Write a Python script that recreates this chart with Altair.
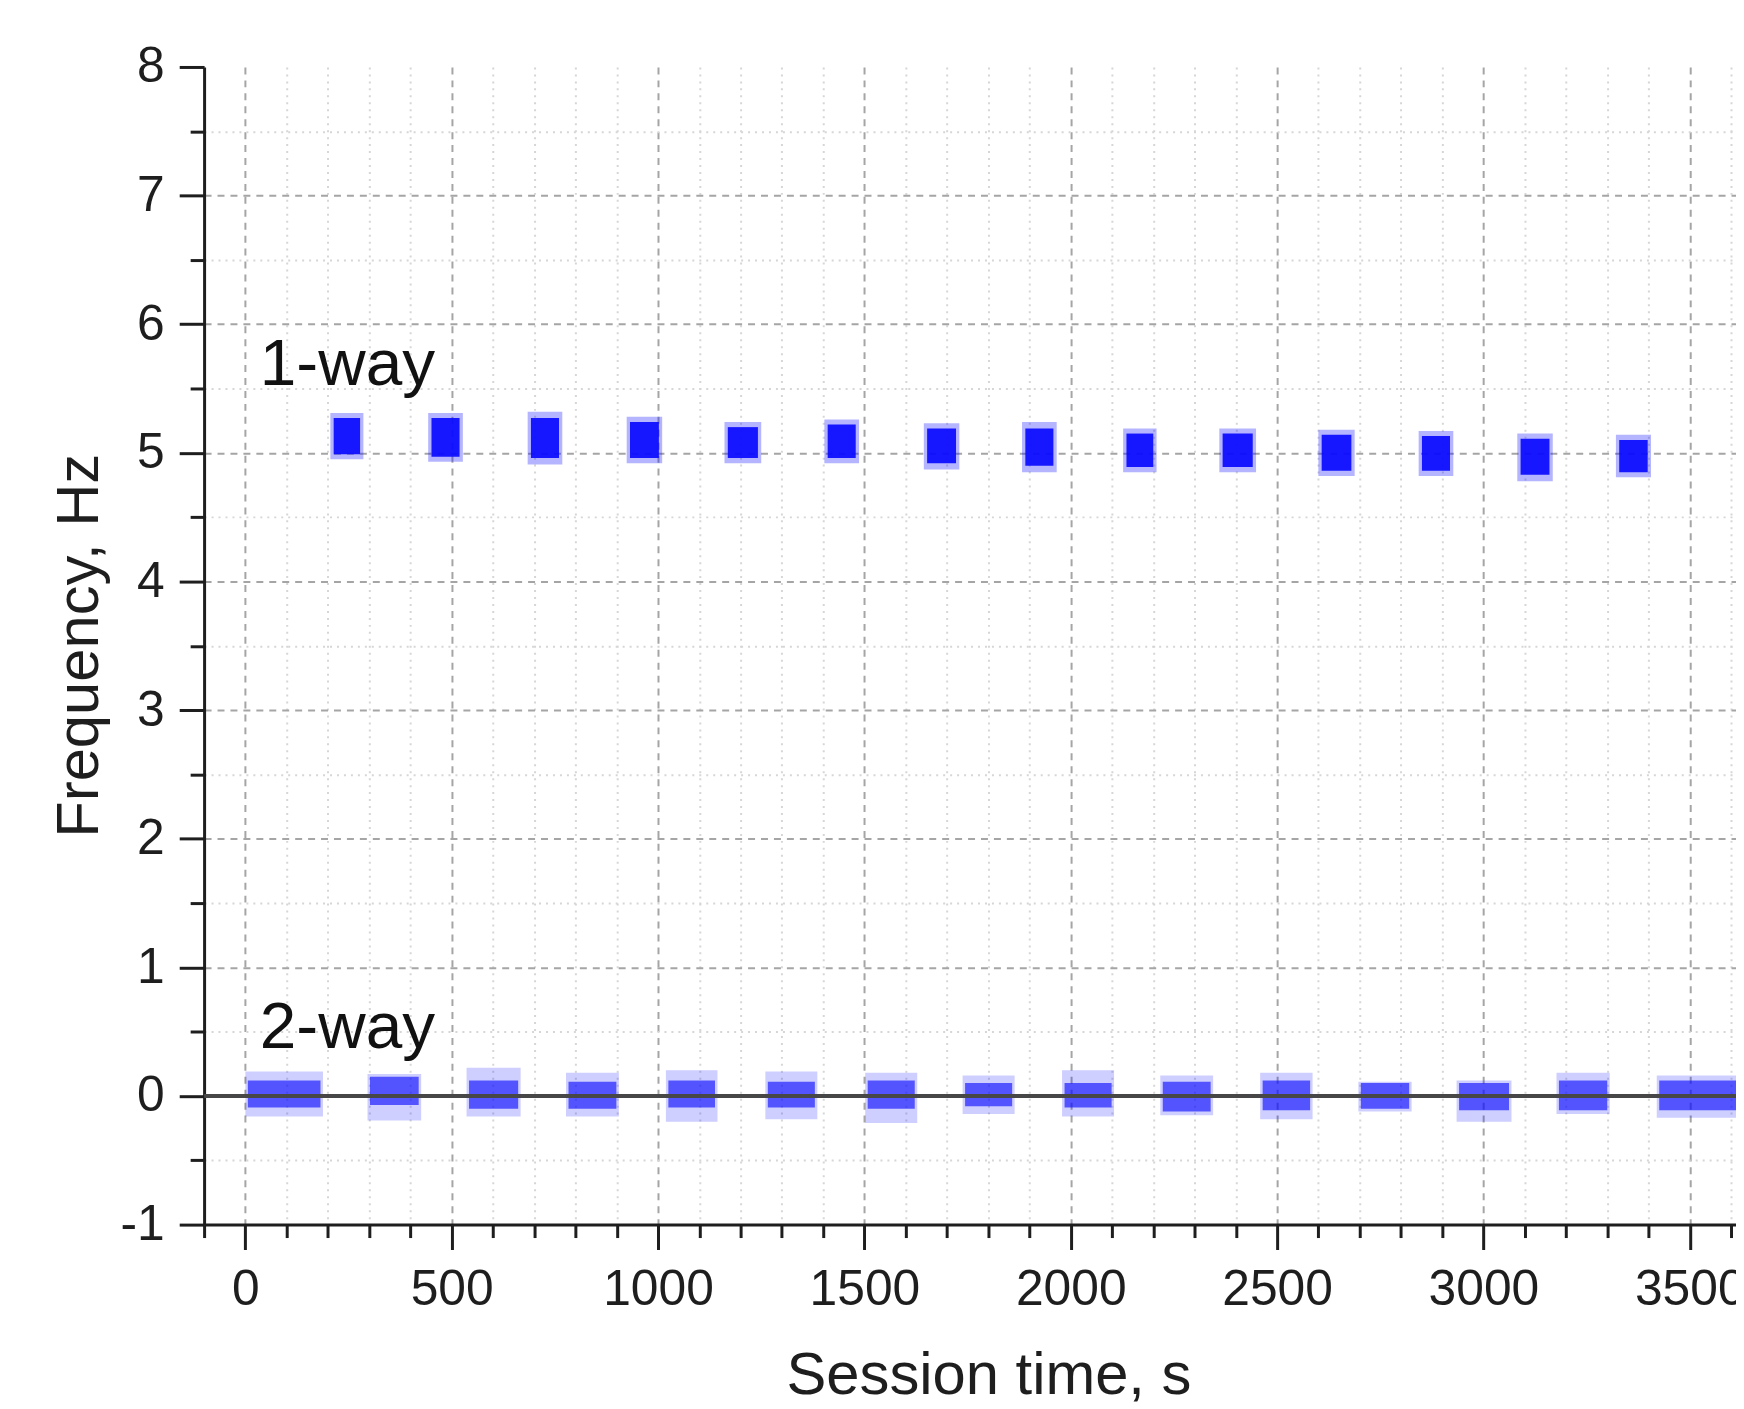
import altair as alt
import pandas as pd

# ---- 1-way clusters (time extents in s, frequency extents in Hz) ----
ow_x0 = [206, 443, 684, 924, 1161, 1403, 1644, 1882, 2127, 2360, 2600, 2843, 3082, 3321]
ow_x1 = [286, 527, 768, 1010, 1250, 1487, 1730, 1966, 2208, 2449, 2688, 2927, 3168, 3406]
ow_lo = [4.95, 4.93, 4.91, 4.92, 4.92, 4.92, 4.87, 4.85, 4.85, 4.85, 4.82, 4.82, 4.78, 4.81]
ow_hi = [5.31, 5.31, 5.32, 5.28, 5.24, 5.26, 5.23, 5.24, 5.19, 5.19, 5.18, 5.17, 5.15, 5.14]
# dense core of each 1-way cluster
ow_cx0 = [214, 451, 692, 932, 1169, 1411, 1652, 1890, 2135, 2368, 2608, 2851, 3090, 3329]
ow_cx1 = [278, 519, 760, 1002, 1242, 1479, 1722, 1958, 2200, 2441, 2680, 2919, 3160, 3398]
ow_clo = [4.99, 4.97, 4.96, 4.96, 4.96, 4.96, 4.92, 4.90, 4.89, 4.89, 4.86, 4.86, 4.83, 4.85]
ow_chi = [5.27, 5.27, 5.27, 5.24, 5.20, 5.22, 5.19, 5.19, 5.15, 5.15, 5.14, 5.13, 5.11, 5.10]

# ---- 2-way clusters ----
tw_x0 = [0, 296, 536, 777, 1019, 1260, 1502, 1738, 1979, 2217, 2459, 2697, 2935, 3177, 3420]
tw_x1 = [188, 426, 667, 905, 1144, 1386, 1628, 1864, 2105, 2345, 2586, 2826, 3068, 3306, 3700]
tw_lo = [-0.16, -0.19, -0.16, -0.16, -0.20, -0.18, -0.21, -0.14, -0.16, -0.15, -0.18, -0.12, -0.20, -0.14, -0.17]
tw_hi = [0.19, 0.17, 0.22, 0.18, 0.20, 0.19, 0.18, 0.16, 0.20, 0.16, 0.18, 0.11, 0.12, 0.18, 0.16]
tw_cx0 = [6, 302, 542, 783, 1025, 1266, 1508, 1744, 1985, 2223, 2465, 2703, 2941, 3183, 3426]
tw_cx1 = [182, 420, 661, 899, 1138, 1380, 1622, 1858, 2099, 2339, 2580, 2820, 3062, 3300, 3700]
tw_clo = [-0.09, -0.07, -0.10, -0.10, -0.09, -0.09, -0.10, -0.08, -0.09, -0.12, -0.11, -0.10, -0.11, -0.11, -0.11]
tw_chi = [0.12, 0.15, 0.12, 0.11, 0.12, 0.11, 0.12, 0.10, 0.10, 0.11, 0.12, 0.10, 0.10, 0.12, 0.12]

# ---- annotations ----
ann_text = ["1-way", "2-way"]
ann_x = [35, 35]
ann_y = [5.53, 0.375]

zero_line = [0]

# ---- ticks ----
x_major = [0, 500, 1000, 1500, 2000, 2500, 3000, 3500]
x_minor = [-100, 100, 200, 300, 400, 600, 700, 800, 900, 1100, 1200, 1300, 1400,
           1600, 1700, 1800, 1900, 2100, 2200, 2300, 2400, 2600, 2700, 2800, 2900,
           3100, 3200, 3300, 3400, 3600]
y_major = [-1, 0, 1, 2, 3, 4, 5, 6, 7, 8]
y_minor = [-0.5, 0.5, 1.5, 2.5, 3.5, 4.5, 5.5, 6.5, 7.5]

FONT = "Liberation Sans"
BLUE = "#0a0aff"
INK = "#1e1e1e"

xs = alt.Scale(domain=[-100, 3612], nice=False, zero=False)
ys = alt.Scale(domain=[-1, 8], nice=False, zero=False)

ow = pd.DataFrame({"x0": ow_x0, "x1": ow_x1, "lo": ow_lo, "hi": ow_hi,
                   "cx0": ow_cx0, "cx1": ow_cx1, "clo": ow_clo, "chi": ow_chi})
tw = pd.DataFrame({"x0": tw_x0, "x1": tw_x1, "lo": tw_lo, "hi": tw_hi,
                   "cx0": tw_cx0, "cx1": tw_cx1, "clo": tw_clo, "chi": tw_chi})
ann = pd.DataFrame({"text": ann_text, "x": ann_x, "y": ann_y})
zl = pd.DataFrame({"y": zero_line})

major_x = alt.Axis(
    orient="bottom", values=x_major, labelExpr="'' + datum.value", title="Session time, s",
    grid=True, gridColor="#a5a5a5", gridDash=[7, 6], gridWidth=2,
    tickSize=25, tickWidth=3, tickColor=INK, domainColor=INK, domainWidth=3,
    labelFont=FONT, labelFontSize=50, labelColor=INK, labelPadding=15,
    labelFlush=False, labelOverlap=False,
    titleFont=FONT, titleFontSize=60, titleFontWeight="normal", titleColor=INK,
    titleX=788, titleY=170, titleBaseline="alphabetic", titleAlign="center",
)
major_y = alt.Axis(
    orient="left", values=y_major, labelExpr="'' + datum.value", title="Frequency, Hz",
    grid=True, gridColor="#a5a5a5", gridDash=[7, 6], gridWidth=2,
    gridOpacity={"condition": {"test": "datum.value == 8 || datum.value == -1", "value": 0}, "value": 1},
    tickSize=25, tickWidth=3, tickColor=INK, domainColor=INK, domainWidth=3,
    labelFont=FONT, labelFontSize=50, labelColor=INK, labelPadding=15,
    labelFlush=False, labelOverlap=False,
    titleFont=FONT, titleFontSize=60, titleFontWeight="normal", titleColor=INK,
    titleAngle=270, titleX=-107, titleY=581, titleBaseline="alphabetic", titleAlign="center",
)
minor_x = alt.Axis(
    orient="bottom", values=x_minor, labels=False, domain=False, title=None,
    grid=True, gridColor="#d6d6d6", gridDash=[2, 5], gridWidth=2,
    gridOpacity={"condition": {"test": "datum.value == -100", "value": 0}, "value": 1},
    tickSize=13, tickWidth=3, tickColor=INK,
)
minor_y = alt.Axis(
    orient="left", values=y_minor, labels=False, domain=False, title=None,
    grid=True, gridColor="#d6d6d6", gridDash=[2, 5], gridWidth=2,
    tickSize=14, tickWidth=3, tickColor=INK,
)

tw_fringe = alt.Chart(tw).mark_rect(color=BLUE, opacity=0.2, clip=True).encode(
    x=alt.X("x0:Q", scale=xs, axis=major_x), x2="x1:Q",
    y=alt.Y("lo:Q", scale=ys, axis=major_y), y2="hi:Q",
)
ow_fringe = alt.Chart(ow).mark_rect(color=BLUE, opacity=0.3, clip=True).encode(
    x=alt.X("x0:Q", scale=xs, axis=None), x2="x1:Q",
    y=alt.Y("lo:Q", scale=ys, axis=None), y2="hi:Q",
)
tw_core = alt.Chart(tw).mark_rect(color=BLUE, opacity=0.62, clip=True).encode(
    x=alt.X("cx0:Q", scale=xs, axis=None), x2="cx1:Q",
    y=alt.Y("clo:Q", scale=ys, axis=None), y2="chi:Q",
)
ow_core = alt.Chart(ow).mark_rect(color=BLUE, opacity=0.92, clip=True).encode(
    x=alt.X("cx0:Q", scale=xs, axis=None), x2="cx1:Q",
    y=alt.Y("clo:Q", scale=ys, axis=None), y2="chi:Q",
)
zero = alt.Chart(zl).mark_rule(color="#474747", strokeWidth=4).encode(
    y=alt.Y("y:Q", scale=ys, axis=None),
)
labels = alt.Chart(ann).mark_text(
    align="left", baseline="alphabetic", font=FONT, fontSize=66, color="#111111",
).encode(
    x=alt.X("x:Q", scale=xs, axis=minor_x),
    y=alt.Y("y:Q", scale=ys, axis=minor_y),
    text="text:N",
)

chart = alt.layer(tw_fringe, ow_fringe, tw_core, ow_core, zero, labels).resolve_axis(
    x="independent", y="independent"
).properties(
    width=1539, height=1163,
    autosize=alt.AutoSizeParams(type="none"),
    padding={"left": 197, "top": 56, "right": 0, "bottom": 179},
    background="white",
).configure_view(strokeOpacity=0)

chart.save("out.html", embed_options={"renderer": "svg", "actions": False})
